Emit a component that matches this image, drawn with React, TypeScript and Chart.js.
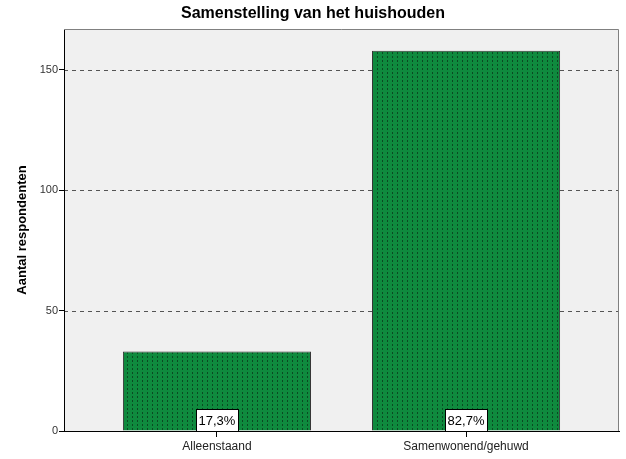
import React, { useEffect, useRef } from "react";
import { Chart, registerables } from "chart.js";

Chart.register(...registerables);

const categories = ["Alleenstaand", "Samenwonend/gehuwd"];
const counts = [33, 158];
const percentLabels = ["17,3%", "82,7%"];
const yTicks = [0, 50, 100, 150];
const yMax = 167;
const chartTitle = "Samenstelling van het huishouden";
const yTitle = "Aantal respondenten";

const FONT = "'Liberation Sans', Arial, sans-serif";

function makePattern(): CanvasPattern | string {
  const c = document.createElement("canvas");
  c.width = 5;
  c.height = 4;
  const g = c.getContext("2d");
  if (!g) return "#0f8a3e";
  g.fillStyle = "#0f8a3e";
  g.fillRect(0, 0, 5, 4);
  g.fillStyle = "#0a4a22";
  g.fillRect(2, 0, 1, 2);
  const p = g.createPattern(c, "repeat");
  return p || "#0f8a3e";
}

const decorPlugin = {
  id: "decor",
  beforeDraw(chart: any) {
    const { ctx, chartArea } = chart;
    ctx.save();
    ctx.fillStyle = "#ffffff";
    ctx.fillRect(0, 0, chart.width, chart.height);
    ctx.fillStyle = "#f0f0f0";
    ctx.fillRect(chartArea.left, chartArea.top, chartArea.right - chartArea.left, chartArea.bottom - chartArea.top);
    const ys = chart.scales.y;
    ctx.strokeStyle = "#555555";
    ctx.lineWidth = 1;
    ctx.setLineDash([4, 4]);
    yTicks.forEach((v) => {
      if (v === 0) return;
      const py = Math.round(ys.getPixelForValue(v)) + 0.5;
      ctx.beginPath();
      ctx.moveTo(chartArea.left, py);
      ctx.lineTo(chartArea.right, py);
      ctx.stroke();
    });
    ctx.setLineDash([]);
    ctx.restore();
  },
  afterDatasetsDraw(chart: any) {
    const { ctx, chartArea } = chart;
    const ys = chart.scales.y;
    const meta = chart.getDatasetMeta(0);
    ctx.save();
    ctx.strokeStyle = "#808080";
    ctx.lineWidth = 1;
    ctx.beginPath();
    ctx.moveTo(chartArea.left, Math.round(chartArea.top) + 0.5);
    ctx.lineTo(Math.round(chartArea.right) - 0.5, Math.round(chartArea.top) + 0.5);
    ctx.lineTo(Math.round(chartArea.right) - 0.5, chartArea.bottom);
    ctx.stroke();
    ctx.font = `13px ${FONT}`;
    ctx.textAlign = "center";
    ctx.textBaseline = "middle";
    const base = ys.getPixelForValue(0);
    meta.data.forEach((bar: any, i: number) => {
      const txt = percentLabels[i];
      const w = Math.ceil(ctx.measureText(txt).width) + 5;
      const h = 22;
      const x0 = Math.round(bar.x - w / 2) + 0.5;
      const y0 = Math.round(base - h) + 0.5;
      ctx.fillStyle = "#ffffff";
      ctx.fillRect(x0, y0, w, h);
      ctx.strokeStyle = "#000000";
      ctx.strokeRect(x0, y0, w, h);
      ctx.fillStyle = "#000000";
      ctx.fillText(txt, bar.x, y0 + h / 2 + 1);
    });
    ctx.restore();
  },
  afterDraw(chart: any) {
    const { ctx, chartArea } = chart;
    ctx.save();
    ctx.fillStyle = "#000000";
    ctx.font = `bold 16px ${FONT}`;
    ctx.textAlign = "center";
    ctx.textBaseline = "middle";
    ctx.fillText(chartTitle, chart.width / 2, 14);
    ctx.translate(22, (chartArea.top + chartArea.bottom) / 2);
    ctx.rotate(-Math.PI / 2);
    ctx.font = `bold 13px ${FONT}`;
    ctx.fillText(yTitle, 0, 0);
    ctx.restore();
  },
};

export default function App() {
  const ref = useRef<HTMLCanvasElement | null>(null);
  useEffect(() => {
    document.body.style.margin = "0";
    const canvas = ref.current;
    if (!canvas) return;
    const chart = new Chart(canvas, {
      type: "bar",
      data: {
        datasets: [
          {
            data: counts.map((v, i) => ({ x: i, y: v })),
            backgroundColor: makePattern() as any,
            borderColor: "#333333",
            borderWidth: 1,
            barPercentage: 0.755,
            categoryPercentage: 1,
          },
        ],
      },
      options: {
        animation: false,
        responsive: false,
        devicePixelRatio: 1,
        layout: { padding: { top: 29, right: 7, left: 0, bottom: 0 } },
        plugins: { legend: { display: false }, tooltip: { enabled: false }, title: { display: false } },
        scales: {
          x: {
            type: "linear",
            offset: false,
            min: -0.614,
            max: 1.614,
            afterBuildTicks: (s: any) => {
              s.ticks = categories.map((_, i) => ({ value: i }));
            },
            afterFit: (s: any) => {
              s.height = 28;
            },
            ticks: {
              autoSkip: false,
              maxRotation: 0,
              padding: 2,
              color: "#222222",
              font: { family: FONT, size: 12 },
              callback: (v: any) => categories[v as number] ?? "",
            },
            grid: { offset: false, drawOnChartArea: false, drawTicks: true, tickLength: 6, color: "#000000" },
            border: { display: true, color: "#000000" },
          },
          y: {
            min: 0,
            max: yMax,
            afterBuildTicks: (s: any) => {
              s.ticks = yTicks.map((v) => ({ value: v }));
            },
            afterFit: (s: any) => {
              s.width = 64;
            },
            ticks: {
              padding: 1,
              color: "#333333",
              font: { family: FONT, size: 11 },
            },
            grid: { drawOnChartArea: false, drawTicks: true, tickLength: 5, color: "#000000" },
            border: { display: true, color: "#000000" },
          },
        },
      },
      plugins: [decorPlugin],
    });
    return () => chart.destroy();
  }, []);
  return (
    <div style={{ position: "absolute", left: 0, top: 0, width: 626, height: 459 }}>
      <canvas ref={ref} width={626} height={459} style={{ width: 626, height: 459 }} />
    </div>
  );
}
